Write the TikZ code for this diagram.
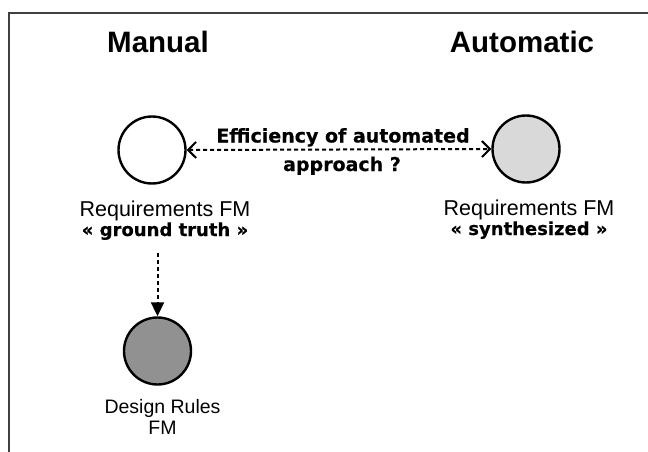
\documentclass[tikz,border=0pt]{standalone}
\usepackage{fontspec}
\setmainfont{Liberation Sans}
\newfontfamily\boldlabel{DejaVu Sans}[BoldFont={DejaVu Sans Bold}, BoldFeatures={FakeBold=0.35}]
\usetikzlibrary{arrows.meta}

\definecolor{framegray}{RGB}{64,64,64}
\definecolor{synthfill}{RGB}{217,217,217}
\definecolor{rulesfill}{RGB}{145,145,145}

\tikzset{
  fm/.style={circle, draw=black, line width=2.4pt, minimum size=67pt, inner sep=0pt},
  heading/.style={anchor=base, inner sep=0pt, font=\fontsize{29.5}{32}\selectfont\bfseries},
  caption/.style={anchor=base, inner sep=0pt, font=\fontsize{21.5}{24}\selectfont},
  smallcaption/.style={anchor=base, inner sep=0pt, font=\fontsize{19.5}{22}\selectfont},
  tag/.style={anchor=base, inner sep=0pt, font=\boldlabel\fontsize{18}{20}\selectfont\bfseries},
  question/.style={anchor=base, inner sep=0pt, font=\boldlabel\fontsize{19}{21}\selectfont\bfseries},
  link/.style={line width=2pt, dash pattern=on 4pt off 3pt},
}

\begin{document}
\begin{tikzpicture}[x=1pt, y=-1pt]
  \useasboundingbox (0,0) rectangle (648,452);
  \fill[white] (0,0) rectangle (648,452);
  \begin{scope}
    \clip (0,0) rectangle (648,452);
    \draw[framegray, line width=2pt] (9,13) rectangle (700,520);
  \end{scope}

  % column headings
  \node[heading] (manual) at (158,53) {Manual};
  \node[heading] (automatic) at (522,53) {Automatic};

  % feature models
  \node[fm, fill=white] (reqman) at (152,150) {};
  \node[fm, fill=synthfill] (reqauto) at (526,149) {};
  \node[fm, fill=rulesfill] (rules) at (157.5,351) {};

  % captions
  \node[caption] (reqmanA) at (165,216) {Requirements FM};
  \node[tag] (reqmanB) at (165,236) {« ground truth »};
  \node[caption] (reqautoA) at (529,215) {Requirements FM};
  \node[tag] (reqautoB) at (529,235) {« synthesized »};
  \node[smallcaption] (rulesA) at (162.5,413) {Design Rules};
  \node[smallcaption] (rulesB) at (162.5,434) {FM};

  % comparison between the two requirement models
  \draw[link, {Straight Barb[length=8pt,width=16pt]}-{Straight Barb[length=8pt,width=16pt]}]
    (reqman.east) -- (reqauto.west);
  \node[question] (effA) at (343,142.5) {Efficiency of automated};
  \node[question] (effB) at (342,171) {approach ?};

  % derivation of the design rules
  \coordinate (derive) at (157.5,253);
  \draw[link, -{Triangle[length=14pt,width=13pt]}] (derive) -- (rules.north);
\end{tikzpicture}
\end{document}
